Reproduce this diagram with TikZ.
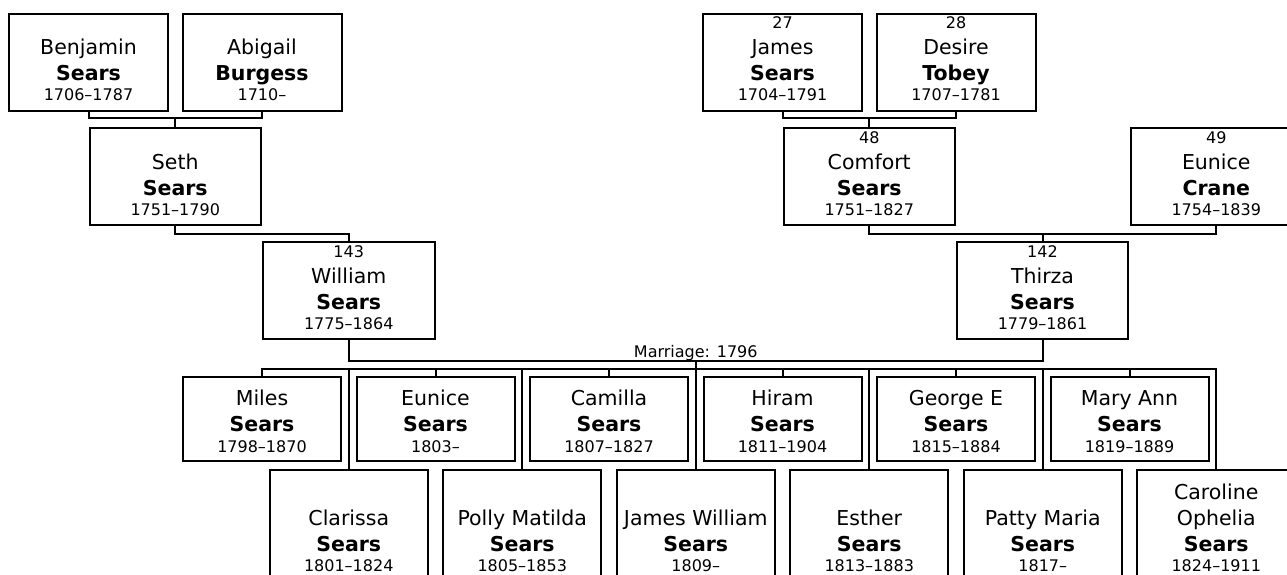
\documentclass[tikz,border=0pt]{standalone}
\usepackage{fontspec}
\setmainfont{DejaVu Sans}
\usetikzlibrary{calc}
\newcommand\fnum{\fontsize{16}{19}\selectfont}
\newcommand\fname{\fontsize{20.5}{24}\selectfont}
\newcommand\fsur{\fontsize{20.5}{24}\selectfont\bfseries}
\newcommand\fdate{\fontsize{16}{19}\selectfont}
\newcommand\pbox[5]{\node[pbox,minimum width=#4pt,minimum height=#5pt,anchor=north] (#1) at (#2,#3) {};}
\newcommand\ptext[5]{\node[ptxt,font=#4,anchor=base] (#1) at ([yshift=-#3pt]#2.north) {#5};}
% generation boxes (height 97): number, first, last, dates
\newcommand\gperson[7]{% id cx top w num first last dates
  \pbox{#1}{#2}{#3}{#4}{97}%
}
\tikzset{
  pbox/.style={draw=black,line width=2pt,fill=white,inner sep=0pt,outer sep=0pt},
  ptxt/.style={inner sep=0pt,outer sep=0pt,text=black},
  conn/.style={draw=black,line width=2pt},
  lbl/.style={inner sep=0pt,outer sep=0pt,font=\fdate,text=black}
}
\begin{document}
\begin{tikzpicture}[x=1pt,y=-1pt]
\useasboundingbox (0,0) rectangle (1287,575);
\fill[white] (0,0) rectangle (1287,575);
\clip (0,0) rectangle (1287,575);

% ---------- generation 1 ----------
\pbox{ben}{88.5}{14}{159}{97}
\ptext{benF}{ben}{41}{\fname}{Benjamin}
\ptext{benL}{ben}{67}{\fsur}{Sears}
\ptext{benD}{ben}{87}{\fdate}{1706–1787}

\pbox{abi}{262}{14}{159}{97}
\ptext{abiF}{abi}{41}{\fname}{Abigail}
\ptext{abiL}{abi}{67}{\fsur}{Burgess}
\ptext{abiD}{abi}{87}{\fdate}{1710–}

\pbox{jam}{782.5}{14}{159}{97}
\ptext{jamN}{jam}{15}{\fnum}{27}
\ptext{jamF}{jam}{41}{\fname}{James}
\ptext{jamL}{jam}{67}{\fsur}{Sears}
\ptext{jamD}{jam}{87}{\fdate}{1704–1791}

\pbox{des}{956}{14}{159}{97}
\ptext{desN}{des}{15}{\fnum}{28}
\ptext{desF}{des}{41}{\fname}{Desire}
\ptext{desL}{des}{67}{\fsur}{Tobey}
\ptext{desD}{des}{87}{\fdate}{1707–1781}

% ---------- generation 2 ----------
\pbox{seth}{175.25}{128}{171}{97}
\ptext{sethF}{seth}{41}{\fname}{Seth}
\ptext{sethL}{seth}{67}{\fsur}{Sears}
\ptext{sethD}{seth}{87}{\fdate}{1751–1790}

\pbox{com}{869.25}{128}{171}{97}
\ptext{comN}{com}{15}{\fnum}{48}
\ptext{comF}{com}{41}{\fname}{Comfort}
\ptext{comL}{com}{67}{\fsur}{Sears}
\ptext{comD}{com}{87}{\fdate}{1751–1827}

\pbox{eun}{1216.25}{128}{171}{97}
\ptext{eunN}{eun}{15}{\fnum}{49}
\ptext{eunF}{eun}{41}{\fname}{Eunice}
\ptext{eunL}{eun}{67}{\fsur}{Crane}
\ptext{eunD}{eun}{87}{\fdate}{1754–1839}

% ---------- generation 3 ----------
\pbox{wil}{348.75}{242}{172}{97}
\ptext{wilN}{wil}{15}{\fnum}{143}
\ptext{wilF}{wil}{41}{\fname}{William}
\ptext{wilL}{wil}{67}{\fsur}{Sears}
\ptext{wilD}{wil}{87}{\fdate}{1775–1864}

\pbox{thi}{1042.5}{242}{171}{97}
\ptext{thiN}{thi}{15}{\fnum}{142}
\ptext{thiF}{thi}{41}{\fname}{Thirza}
\ptext{thiL}{thi}{67}{\fsur}{Sears}
\ptext{thiD}{thi}{87}{\fdate}{1779–1861}

% ---------- children row 1 ----------
\pbox{mil}{262}{377}{158}{84}
\ptext{milF}{mil}{28}{\fname}{Miles}
\ptext{milL}{mil}{54}{\fsur}{Sears}
\ptext{milD}{mil}{75}{\fdate}{1798–1870}

\pbox{eus}{435.5}{377}{158}{84}
\ptext{eusF}{eus}{28}{\fname}{Eunice}
\ptext{eusL}{eus}{54}{\fsur}{Sears}
\ptext{eusD}{eus}{75}{\fdate}{1803–}

\pbox{cam}{609}{377}{158}{84}
\ptext{camF}{cam}{28}{\fname}{Camilla}
\ptext{camL}{cam}{54}{\fsur}{Sears}
\ptext{camD}{cam}{75}{\fdate}{1807–1827}

\pbox{hir}{782.5}{377}{158}{84}
\ptext{hirF}{hir}{28}{\fname}{Hiram}
\ptext{hirL}{hir}{54}{\fsur}{Sears}
\ptext{hirD}{hir}{75}{\fdate}{1811–1904}

\pbox{geo}{956}{377}{158}{84}
\ptext{geoF}{geo}{28}{\fname}{George E}
\ptext{geoL}{geo}{54}{\fsur}{Sears}
\ptext{geoD}{geo}{75}{\fdate}{1815–1884}

\pbox{mar}{1129.5}{377}{158}{84}
\ptext{marF}{mar}{28}{\fname}{Mary Ann}
\ptext{marL}{mar}{54}{\fsur}{Sears}
\ptext{marD}{mar}{75}{\fdate}{1819–1889}

% ---------- children row 2 ----------
\pbox{cla}{348.75}{470}{158}{140}
\ptext{claF}{cla}{55}{\fname}{Clarissa}
\ptext{claL}{cla}{81}{\fsur}{Sears}
\ptext{claD}{cla}{101}{\fdate}{1801–1824}

\pbox{pol}{522.25}{470}{158}{140}
\ptext{polF}{pol}{55}{\fname}{Polly Matilda}
\ptext{polL}{pol}{81}{\fsur}{Sears}
\ptext{polD}{pol}{101}{\fdate}{1805–1853}

\pbox{jw}{695.75}{470}{158}{140}
\ptext{jwF}{jw}{55}{\fname}{James William}
\ptext{jwL}{jw}{81}{\fsur}{Sears}
\ptext{jwD}{jw}{101}{\fdate}{1809–}

\pbox{est}{869.25}{470}{158}{140}
\ptext{estF}{est}{55}{\fname}{Esther}
\ptext{estL}{est}{81}{\fsur}{Sears}
\ptext{estD}{est}{101}{\fdate}{1813–1883}

\pbox{pat}{1042.75}{470}{158}{140}
\ptext{patF}{pat}{55}{\fname}{Patty Maria}
\ptext{patL}{pat}{81}{\fsur}{Sears}
\ptext{patD}{pat}{101}{\fdate}{1817–}

\pbox{car}{1216.25}{470}{158}{140}
\ptext{carA}{car}{29}{\fname}{Caroline}
\ptext{carF}{car}{55}{\fname}{Ophelia}
\ptext{carL}{car}{81}{\fsur}{Sears}
\ptext{carD}{car}{101}{\fdate}{1824–1911}

% ---------- connectors ----------
\draw[conn] (ben.south) -- ++(0,7) coordinate (m1) -| (abi.south);
\draw[conn] (seth.north) -- (seth.north |- m1);
\draw[conn] (seth.south) -- ++(0,9) -| (wil.north);

\draw[conn] (jam.south) -- ++(0,7) coordinate (m2) -| (des.south);
\draw[conn] (com.north) -- (com.north |- m2);
\draw[conn] (com.south) -- ++(0,9) coordinate (m3) -| (eun.south);
\draw[conn] (thi.north) -- (thi.north |- m3);

\draw[conn] (wil.south) -- ++(0,22) coordinate (mm) -| (thi.south);
\node[lbl,anchor=base] (mlab) at ($(jw.north |- mm)+(0,-4)$) {Marriage: 1796};
\draw[conn] (jw.north |- mm) -- (jw.north);

\draw[conn] (mil.north) -- ++(0,-8) coordinate (busL) -- (busL -| car.north) -- (car.north);
\foreach \c in {eus,cam,hir,geo,mar,cla,pol,est,pat}
  \draw[conn] (\c.north) -- (\c.north |- busL);
\end{tikzpicture}
\end{document}
